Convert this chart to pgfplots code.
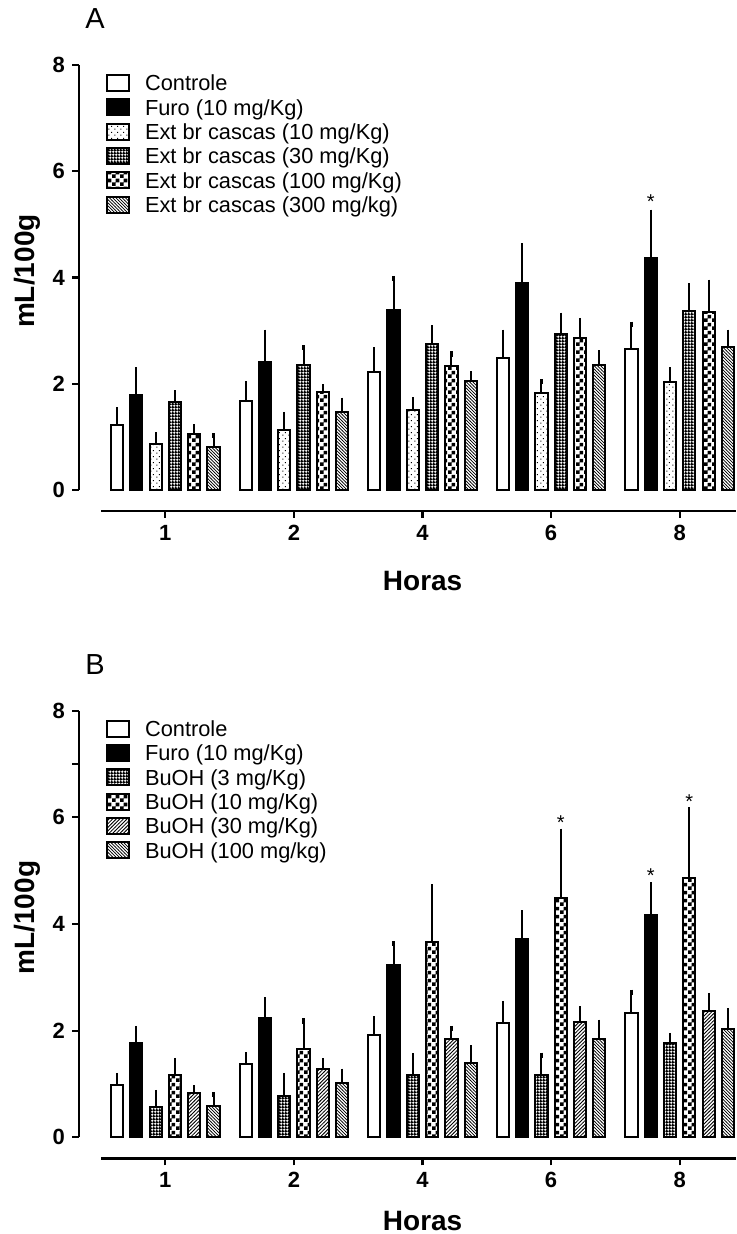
\documentclass[border=0pt]{standalone}
\usepackage{pgfplots}
\pgfplotsset{compat=1.18}
\usepackage{fontspec}
\setmainfont{Liberation Sans}
\usetikzlibrary{patterns}

\pgfdeclarepatternformonly{sparsedots}{\pgfqpoint{0pt}{0pt}}{\pgfqpoint{3pt}{3pt}}{\pgfqpoint{3pt}{3pt}}{%
  \pgfpathrectangle{\pgfqpoint{0.2pt}{0.2pt}}{\pgfqpoint{0.6pt}{0.6pt}}%
  \pgfpathrectangle{\pgfqpoint{1.7pt}{1.7pt}}{\pgfqpoint{0.6pt}{0.6pt}}%
  \pgfusepath{fill}}
\pgfdeclarepatternformonly{finegrid}{\pgfqpoint{0pt}{0pt}}{\pgfqpoint{1.6pt}{1.6pt}}{\pgfqpoint{1.6pt}{1.6pt}}{%
  \pgfpathrectangle{\pgfqpoint{0pt}{0pt}}{\pgfqpoint{1.6pt}{0.8pt}}%
  \pgfpathrectangle{\pgfqpoint{0pt}{0.8pt}}{\pgfqpoint{0.8pt}{0.8pt}}%
  \pgfusepath{fill}}
\pgfdeclarepatternformonly{checker}{\pgfqpoint{0pt}{0pt}}{\pgfqpoint{4pt}{4pt}}{\pgfqpoint{4pt}{4pt}}{%
  \pgfpathrectangle{\pgfqpoint{0pt}{0pt}}{\pgfqpoint{2pt}{2pt}}%
  \pgfpathrectangle{\pgfqpoint{2pt}{2pt}}{\pgfqpoint{2pt}{2pt}}%
  \pgfusepath{fill}}
\pgfdeclarepatternformonly{nelines}{\pgfqpoint{-0.5pt}{-0.5pt}}{\pgfqpoint{2.3pt}{2.3pt}}{\pgfqpoint{1.8pt}{1.8pt}}{%
  \pgfsetlinewidth{0.4pt}%
  \pgfpathmoveto{\pgfqpoint{-0.1pt}{-0.1pt}}%
  \pgfpathlineto{\pgfqpoint{1.9pt}{1.9pt}}%
  \pgfusepath{stroke}}
\pgfdeclarepatternformonly{nwlines}{\pgfqpoint{-0.5pt}{-0.5pt}}{\pgfqpoint{2.1pt}{2.1pt}}{\pgfqpoint{1.6pt}{1.6pt}}{%
  \pgfsetlinewidth{0.35pt}%
  \pgfpathmoveto{\pgfqpoint{-0.1pt}{1.7pt}}%
  \pgfpathlineto{\pgfqpoint{1.7pt}{-0.1pt}}%
  \pgfusepath{stroke}}

\pgfplotsset{
  mybar/.style={ybar, bar width=0.095, bar shift=0pt, draw=black, line width=1pt,
    error bars/y dir=plus, error bars/y explicit,
    error bars/error mark={-},
    error bars/error bar style={line width=1pt, black, solid},
    error bars/error mark options={line width=1.1pt, black, mark size=1.3pt, solid},
    legend image code/.code={\draw[##1, line width=1pt] (0pt,-4pt) rectangle (11pt,4pt);}},
  stars/.style={forget plot, draw=none, mark=none, nodes near coords={\pgfplotspointmeta},
    point meta=explicit symbolic,
    every node near coord/.append style={anchor=center, font=\fontsize{10}{12}\selectfont, inner sep=0pt, yshift=-2pt}},
  myaxis/.style={
    scale only axis, width=317.5pt, anchor=south west,
    xmin=-0.5, xmax=4.438, ymin=0, ymax=8,
    axis lines=left, axis line style={-, line width=1.3pt},
    axis x line shift=10.5pt, axis y line shift=11pt,
    xtick={0,1,2,3,4}, xticklabels={1,2,4,6,8},
    ytick={0,2,4,6,8},
    tick align=outside, major tick length=3.5pt,
    tick style={line width=1.1pt, black},
    tick label style={font=\fontsize{11}{13}\selectfont\bfseries},
    /pgf/number format/assume math mode=true,
    xlabel={Horas}, ylabel={mL/100g},
    label style={font=\fontsize{14}{16}\selectfont\bfseries},
    ylabel style={at={(axis description cs:-0.1165,0.515)}, anchor=center},
    legend style={at={(axis description cs:0.0079,0.986)}, anchor=north west, draw=none, fill=none,
      inner sep=0pt, outer sep=0pt, font=\fontsize{10.9}{12}\selectfont, column sep=7.5pt, row sep=0pt,
      nodes={inner sep=0pt, text height=10pt, text depth=2.15pt}},
    legend cell align=left,
    title style={anchor=base west, inner sep=0pt, font=\fontsize{14.5}{16}\selectfont},
    clip=false,
  },
}

\begin{document}
\begin{tikzpicture}
\useasboundingbox (0,0) rectangle (368pt,617pt);
% ---------------- Panel A ----------------
\begin{axis}[myaxis, at={(50.5pt,372pt)}, height=212.5pt,
  title={A}, title style={at={(axis description cs:-0.0252,1.0565)}},
  xlabel style={at={(axis description cs:0.5065,-0.214)}, anchor=center}]
\addplot[mybar, fill=white] coordinates {(-0.375,1.22) +- (0,0.29) (0.625,1.67) +- (0,0.33) (1.625,2.23) +- (0,0.41) (2.625,2.49) +- (0,0.48) (3.625,2.65) +- (0,0.47)};
\addplot[mybar, fill=black] coordinates {(-0.225,1.78) +- (0,0.48) (0.775,2.40) +- (0,0.57) (1.775,3.38) +- (0,0.60) (2.775,3.90) +- (0,0.70) (3.775,4.36) +- (0,0.87)};
\addplot[mybar, pattern=sparsedots] coordinates {(-0.075,0.87) +- (0,0.17) (0.925,1.12) +- (0,0.30) (1.925,1.51) +- (0,0.19) (2.925,1.82) +- (0,0.22) (3.925,2.04) +- (0,0.22)};
\addplot[mybar, pattern=finegrid] coordinates {(0.075,1.66) +- (0,0.17) (1.075,2.35) +- (0,0.33) (2.075,2.74) +- (0,0.31) (3.075,2.93) +- (0,0.36) (4.075,3.36) +- (0,0.48)};
\addplot[mybar, pattern=checker] coordinates {(0.225,1.06) +- (0,0.13) (1.225,1.84) +- (0,0.10) (2.225,2.34) +- (0,0.22) (3.225,2.87) +- (0,0.32) (4.225,3.35) +- (0,0.56)};
\addplot[mybar, pattern=nwlines] coordinates {(0.375,0.81) +- (0,0.21) (1.375,1.47) +- (0,0.22) (2.375,2.06) +- (0,0.13) (3.375,2.35) +- (0,0.23) (4.375,2.69) +- (0,0.28)};
\addplot[stars] coordinates {(3.775,5.50) [*]};
\legend{Controle, Furo (10 mg/Kg), Ext br cascas (10 mg/Kg), Ext br cascas (30 mg/Kg), Ext br cascas (100 mg/Kg), Ext br cascas (300 mg/kg)}
\end{axis}
% ---------------- Panel B ----------------
\begin{axis}[myaxis, at={(50.5pt,48.35pt)}, height=213.3pt,
  extra y ticks={7}, extra y tick labels={},
  title={B}, title style={at={(axis description cs:-0.0252,1.0556)}},
  xlabel style={at={(axis description cs:0.5065,-0.196)}, anchor=center}]
\addplot[mybar, fill=white] coordinates {(-0.375,0.99) +- (0,0.17) (0.625,1.38) +- (0,0.17) (1.625,1.92) +- (0,0.30) (2.625,2.14) +- (0,0.37) (3.625,2.33) +- (0,0.39)};
\addplot[mybar, fill=black] coordinates {(-0.225,1.76) +- (0,0.28) (0.775,2.24) +- (0,0.34) (1.775,3.23) +- (0,0.40) (2.775,3.72) +- (0,0.49) (3.775,4.16) +- (0,0.57)};
\addplot[mybar, pattern=finegrid] coordinates {(-0.075,0.56) +- (0,0.28) (0.925,0.78) +- (0,0.38) (1.925,1.17) +- (0,0.36) (2.925,1.17) +- (0,0.37) (3.925,1.76) +- (0,0.15)};
\addplot[mybar, pattern=checker] coordinates {(0.075,1.16) +- (0,0.28) (1.075,1.66) +- (0,0.52) (2.075,3.66) +- (0,1.04) (3.075,4.49) +- (0,1.25) (4.075,4.87) +- (0,1.27)};
\addplot[mybar, pattern=nelines] coordinates {(0.225,0.84) +- (0,0.09) (1.225,1.29) +- (0,0.14) (2.225,1.84) +- (0,0.20) (3.225,2.16) +- (0,0.25) (4.225,2.37) +- (0,0.29)};
\addplot[mybar, pattern=nwlines] coordinates {(0.375,0.59) +- (0,0.21) (1.375,1.02) +- (0,0.22) (2.375,1.40) +- (0,0.28) (3.375,1.85) +- (0,0.31) (4.375,2.04) +- (0,0.33)};
\addplot[stars] coordinates {(3.075,5.97) [*] (3.775,4.98) [*] (4.075,6.375) [*]};
\legend{Controle, Furo (10 mg/Kg), BuOH (3 mg/Kg), BuOH (10 mg/Kg), BuOH (30 mg/Kg), BuOH (100 mg/kg)}
\end{axis}
\end{tikzpicture}
\end{document}
